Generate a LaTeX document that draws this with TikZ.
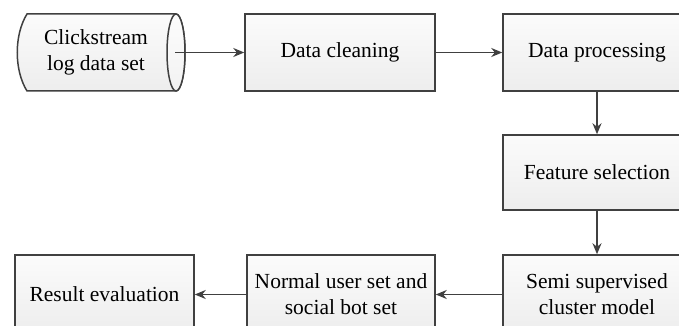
\documentclass[tikz,border=0pt]{standalone}
\usepackage{fontspec}
\setmainfont{Liberation Serif}
\usetikzlibrary{arrows.meta}
\definecolor{edge}{HTML}{404040}
\tikzset{
  box/.style={draw=edge, line width=1.5pt, top color=gray!3, bottom color=gray!14,
    minimum width=190pt, minimum height=77pt, align=center, inner sep=0pt,
    font=\fontsize{21.5}{26}\selectfont},
  lbl/.style={align=center, inner sep=0pt, font=\fontsize{21.5}{26}\selectfont},
  conn/.style={draw=edge, line width=1.7pt, -{Stealth[length=11pt,width=9pt]}}
}
\begin{document}
\begin{tikzpicture}[x=1pt,y=-1pt]
\useasboundingbox (0,0) rectangle (679,326);
\fill[white] (0,0) rectangle (679,326);
\begin{scope}
\clip (0,0) rectangle (679,326);
% cylinder
\path[draw=edge, line width=1.5pt, top color=gray!3, bottom color=gray!14]
  (176,14) -- (27,14) .. controls (14,35) and (14,70) .. (27,91) -- (176,91)
  arc[start angle=90, end angle=-90, x radius=9, y radius=38.5] -- cycle;
\path[draw=edge, line width=1.5pt, top color=gray!2, bottom color=gray!10]
  (176,52.5) ellipse[x radius=9, y radius=38.5];
\node[lbl] (clk) at (96,52.5) {Clickstream\\log data set};
\coordinate (clkR) at (175,52.5);
% boxes
\node[box] (clean) at (340,52.5) {Data cleaning};
\node[box, minimum width=188pt] (proc) at (597,52.5) {Data processing};
\node[box, minimum width=188pt, minimum height=75pt] (feat) at (597,172.5) {Feature selection};
\node[box, minimum width=188pt, minimum height=79pt] (semi) at (597,294.5) {Semi supervised\\cluster model};
\node[box, minimum width=188pt, minimum height=79pt] (norm) at (341,294.5) {Normal user set and\\social bot set};
\node[box, minimum width=179pt, minimum height=79pt] (res) at (104.5,294.5) {Result evaluation};
% connectors
\draw[conn] (clkR) -- (clean.west);
\draw[conn] (clean.east) -- (proc.west);
\draw[conn] (proc.south) -- (feat.north);
\draw[conn] (feat.south) -- (semi.north);
\draw[conn] (semi.west) -- (norm.east);
\draw[conn] (norm.west) -- (res.east);
\end{scope}
\end{tikzpicture}
\end{document}
